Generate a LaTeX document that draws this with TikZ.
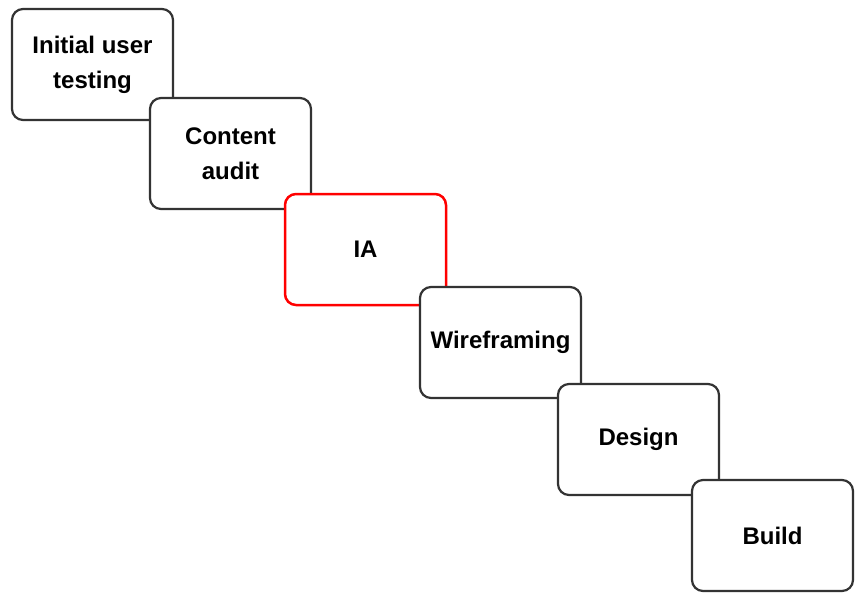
\documentclass[tikz,border=0pt]{standalone}
\usepackage{fontspec}
\setmainfont{Liberation Sans}
\definecolor{boxgray}{HTML}{333333}
\definecolor{boxred}{HTML}{FF0000}
\tikzset{
  stagebox/.style={draw=boxgray, line width=2.2*0.75pt, fill=white, rounded corners=11*0.75pt,
    minimum width=161*0.75pt, minimum height=111*0.75pt, inner sep=0pt, align=center,
    font=\fontsize{18pt}{26.25pt}\selectfont\bfseries},
  redbox/.style={stagebox, draw=boxred, line width=2.5*0.75pt}
}
\begin{document}
\begin{tikzpicture}[x=0.75pt,y=-0.75pt]
\useasboundingbox (0,0) rectangle (862,601);
\node[stagebox] (s1) at (92.5,64.5) {Initial user\\testing};
\node[stagebox] (s2) at (230.5,153.5) {Content\\audit};
\node[redbox] (s3) at (365.5,249.5) {IA};
\node[stagebox] (s4) at (500.5,342.5) {Wireframing};
\node[stagebox] (s5) at (638.5,439.5) {Design};
\node[stagebox] (s6) at (772.5,535.5) {Build};
\end{tikzpicture}
\end{document}
